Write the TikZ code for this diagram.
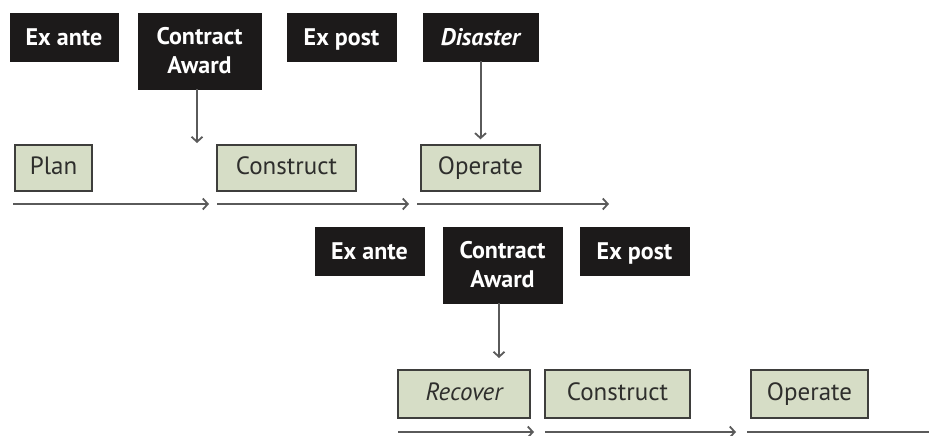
\documentclass[tikz,border=0pt]{standalone}
\usepackage{fontspec}
\setmainfont{PT Sans}
\usetikzlibrary{arrows.meta}
\definecolor{boxblack}{HTML}{1C1A1A}
\definecolor{sage}{HTML}{D6DDC6}
\definecolor{edgegray}{HTML}{3E3E3C}
\definecolor{txtgray}{HTML}{2E2E2C}
\definecolor{linegray}{HTML}{5A5A5A}
\tikzset{
  blackbox/.style={draw=boxblack, fill=boxblack, text=white, font=\fontsize{24}{29}\selectfont\bfseries, inner sep=0pt, align=center},
  oneline/.style={text height=19pt, text depth=2pt},
  greenbox/.style={draw=edgegray, line width=1.4pt, fill=sage, text=txtgray, font=\fontsize{25}{29}\selectfont, inner sep=0pt, text height=18pt, text depth=5pt},
  flow/.style={draw=linegray, line width=2pt, -{Straight Barb[length=5pt,width=11pt,line width=1.8pt]}},
  plainflow/.style={draw=linegray, line width=2pt},
}
\begin{document}
\begin{tikzpicture}[x=1pt,y=-1pt]
\useasboundingbox (0,0) rectangle (929,436);
% top row black boxes
\node[blackbox, oneline, minimum width=108pt, minimum height=48pt] (exa1) at (64,37) {Ex ante};
\node[blackbox, minimum width=123pt, minimum height=76pt] (ca1) at (199.5,51) {Contract\\Award};
\node[blackbox, oneline, minimum width=109pt, minimum height=48pt] (exp1) at (341.5,37) {Ex post};
\node[blackbox, oneline, minimum width=115pt, minimum height=48pt] (dis) at (480.5,37) {\itshape Disaster};
% top row green boxes
\node[greenbox, minimum width=77pt, minimum height=46pt] (plan) at (53.5,168) {Plan};
\node[greenbox, minimum width=139pt, minimum height=46pt] (con1) at (286.5,168) {Construct};
\node[greenbox, minimum width=119pt, minimum height=46pt] (ope1) at (480.5,168) {Operate};
% top row vertical arrows
\coordinate (ca1end) at (197,143);
\draw[flow] (ca1.south -| ca1end) -- (ca1end);
\draw[flow] (dis.south) -- ([yshift=5pt]ope1.north);
% top timeline
\coordinate (t1a) at (13,204);
\coordinate (t1b) at (209,204);
\coordinate (t2a) at (217,204);
\coordinate (t2b) at (409,204);
\coordinate (t3a) at (417,204);
\coordinate (t3b) at (609,204);
\draw[flow] (t1a) -- (t1b);
\draw[flow] (t2a) -- (t2b);
\draw[flow] (t3a) -- (t3b);
% second row black boxes
\node[blackbox, oneline, minimum width=109pt, minimum height=48pt] (exa2) at (369.5,251) {Ex ante};
\node[blackbox, minimum width=119pt, minimum height=76pt] (ca2) at (502.5,265) {Contract\\Award};
\node[blackbox, oneline, minimum width=109pt, minimum height=48pt] (exp2) at (634.5,251) {Ex post};
% second row green boxes
\node[greenbox, minimum width=132pt, minimum height=48pt] (rec) at (464,394) {\itshape Recover};
\node[greenbox, minimum width=145pt, minimum height=48pt] (con2) at (617.5,394) {Construct};
\node[greenbox, minimum width=117pt, minimum height=48pt] (ope2) at (809.5,394) {Operate};
% second row vertical arrow
\coordinate (ca2end) at (499,358);
\draw[flow] (ca2.south -| ca2end) -- (ca2end);
% bottom timeline
\coordinate (b1a) at (398,432);
\coordinate (b1b) at (534,432);
\coordinate (b2a) at (545,432);
\coordinate (b2b) at (736,432);
\coordinate (b3a) at (747,432);
\coordinate (b3b) at (929,432);
\draw[flow] (b1a) -- (b1b);
\draw[flow] (b2a) -- (b2b);
\draw[plainflow] (b3a) -- (b3b);
\end{tikzpicture}
\end{document}
